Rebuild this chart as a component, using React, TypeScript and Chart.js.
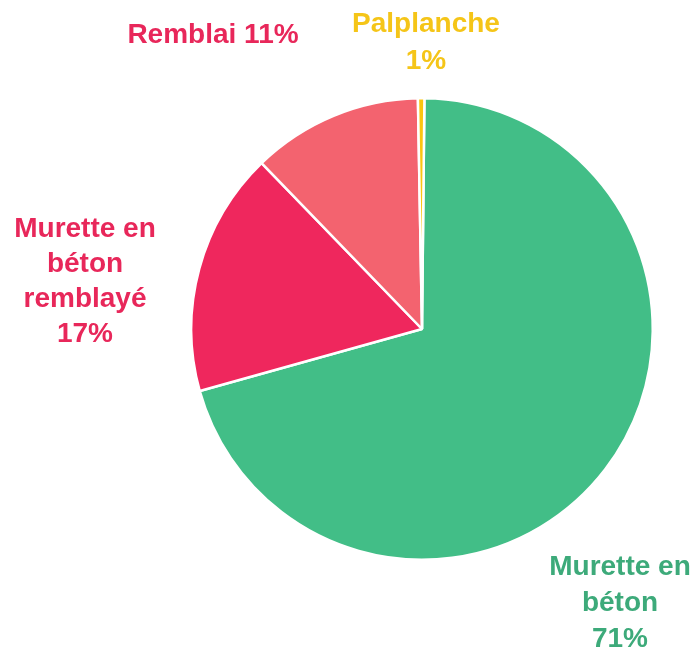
import React, { useEffect, useRef } from "react";
import { Chart, registerables } from "chart.js";

Chart.register(...registerables);

const categories = ["Murette en béton", "Murette en béton remblayé", "Remblai", "Palplanche"];
const shares = [70.5, 17.1, 11.95, 0.45];
const labelLines = [
  ["Murette en", "béton", "71%"],
  ["Murette en", "béton", "remblayé", "17%"],
  ["Remblai 11%"],
  ["Palplanche", "1%"],
];
const sliceColors = ["#42BE87", "#EF275D", "#F3636F", "#FBC510"];
const textColors = ["#3DAA7A", "#E8275A", "#E8275A", "#F5C518"];

// label anchor offsets from the pie centre (first-line baseline), and line height
const labelOffsets = [
  { dx: 198, dy: 246, lh: 36 },
  { dx: -337, dy: -92, lh: 35 },
  { dx: -209, dy: -286, lh: 35 },
  { dx: 4, dy: -297, lh: 37 },
];

const labelPlugin = {
  id: "outerLabels",
  afterDraw(chart: any) {
    const meta = chart.getDatasetMeta(0);
    if (!meta.data.length) return;
    const { x, y } = meta.data[0];
    const ctx = chart.ctx;
    ctx.save();
    ctx.font = 'bold 28px "Liberation Sans", Arial, sans-serif';
    ctx.textAlign = "center";
    ctx.textBaseline = "alphabetic";
    labelLines.forEach((lines, i) => {
      const o = labelOffsets[i];
      ctx.fillStyle = textColors[i];
      lines.forEach((t, j) => {
        ctx.fillText(t, x + o.dx, y + o.dy + j * o.lh);
      });
    });
    ctx.restore();
  },
};

export default function App() {
  const ref = useRef<HTMLCanvasElement | null>(null);
  useEffect(() => {
    document.body.style.margin = "0";
    const chart = new Chart(ref.current!, {
      type: "pie",
      data: {
        labels: categories,
        datasets: [
          {
            data: shares,
            backgroundColor: sliceColors,
            borderColor: "#ffffff",
            borderWidth: 2.5,
          },
        ],
      },
      options: {
        animation: false,
        responsive: false,
        rotation: 0.6,
        layout: { padding: { left: 190, right: 44, top: 97, bottom: 89 } },
        plugins: {
          legend: { display: false },
          tooltip: { enabled: false },
        },
      },
      plugins: [labelPlugin],
    });
    return () => chart.destroy();
  }, []);
  return (
    <div style={{ width: 698, height: 650 }}>
      <canvas ref={ref} width={698} height={650} style={{ width: 698, height: 650 }} />
    </div>
  );
}
